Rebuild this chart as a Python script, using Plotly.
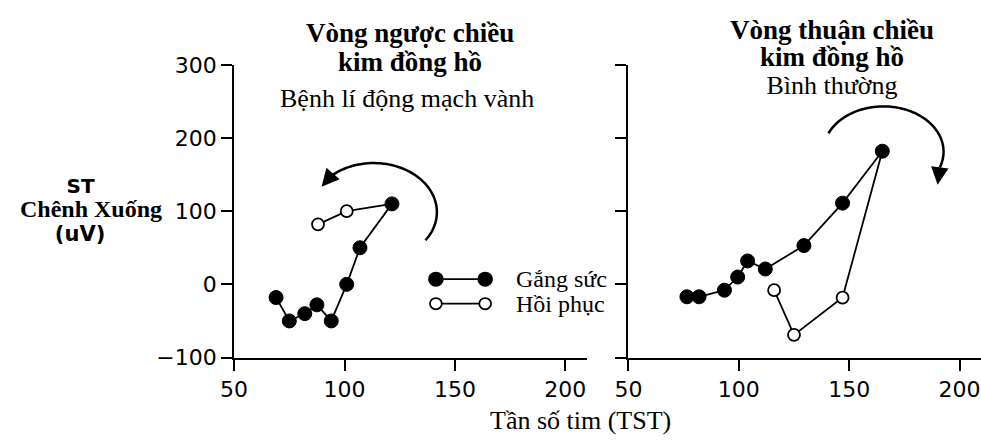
import numpy as np
import plotly.graph_objects as go

# ---------------- data ----------------
left_ex_hr = [69, 75, 82, 87.5, 94, 101, 107, 121.5]
left_ex_st = [-18, -50, -40, -28, -50, 0, 50, 110]
left_rec_hr = [101, 88]
left_rec_st = [100, 82]

right_ex_hr = [76.5, 82, 93.5, 99.5, 104, 112, 129.5, 147, 165]
right_ex_st = [-17, -17, -8, 10, 32, 21, 53, 111, 182]
right_rec_hr = [147, 125, 116]
right_rec_st = [-18, -69, -8]

x_ticks = [50, 100, 150, 200]
y_ticks = [-100, 0, 100, 200, 300]

W, H = 981, 447
SERIF = "Liberation Serif, Times New Roman, serif"
SANS = "DejaVu Sans, Arial, sans-serif"


def px(x):
    return x / W


def py(y):
    return 1 - y / H


fig = go.Figure()

line_style = dict(color="black", width=1.8)
filled = dict(color="black", size=14, line=dict(color="black", width=1))
hollow = dict(color="white", size=12, line=dict(color="black", width=1.8))

panels = [
    ("x", "y", left_ex_hr, left_ex_st, left_rec_hr, left_rec_st),
    ("x2", "y2", right_ex_hr, right_ex_st, right_rec_hr, right_rec_st),
]
for xa, ya, ehr, est, rhr, rst in panels:
    fig.add_trace(go.Scatter(x=[ehr[-1]] + rhr, y=[est[-1]] + rst, mode="lines",
                             line=line_style, xaxis=xa, yaxis=ya, showlegend=False,
                             hoverinfo="skip"))
    fig.add_trace(go.Scatter(x=rhr, y=rst, mode="markers", marker=hollow,
                             xaxis=xa, yaxis=ya, showlegend=False))
    fig.add_trace(go.Scatter(x=ehr, y=est, mode="lines+markers", line=line_style,
                             marker=filled, xaxis=xa, yaxis=ya, showlegend=False))

axis_common = dict(showline=True, linecolor="black", linewidth=2, ticks="outside",
                   ticklen=11, tickwidth=2, tickcolor="black", showgrid=False,
                   zeroline=False, tickfont=dict(family=SANS, size=22, color="black"))

xr = [50, 209.7]
yr = [-100, 300]
ydom = [py(366), py(56)]
fig.update_layout(
    width=W, height=H, margin=dict(l=0, r=0, t=0, b=0),
    paper_bgcolor="white", plot_bgcolor="white", showlegend=False,
    xaxis=dict(domain=[px(223.3), px(581)], range=xr, tickvals=x_ticks,
               anchor="y", **axis_common),
    yaxis=dict(domain=ydom, range=yr, tickvals=y_ticks, anchor="x", **axis_common),
    xaxis2=dict(domain=[px(623.3), 1.0], range=xr, tickvals=x_ticks,
                anchor="y2", **axis_common),
    yaxis2=dict(domain=ydom, range=yr, tickvals=y_ticks, anchor="x2",
                showticklabels=False,
                **{k: v for k, v in axis_common.items() if k != "tickfont"}),
)


def text(s, x, y, size, family=SERIF, xanchor="center"):
    fig.add_annotation(text=s, x=px(x), y=py(y),
                       xref="paper", yref="paper", showarrow=False,
                       xanchor=xanchor, yanchor="middle", align="center",
                       font=dict(family=family, size=size, color="black"))


def span(s, size, family=SERIF, bold=False):
    inner = f"<b>{s}</b>" if bold else s
    return f'<span style="font-size:{size}px;font-family:{family}">{inner}</span>'


# titles (one text block each)
text(span("Vòng ngược chiều", 27, bold=True) + "<br>" +
     span("kim đồng hồ", 27, bold=True), 402, 38, 22)
text("Bệnh lí động mạch vành", 399, 92, 26)
text(span("Vòng thuận chiều", 27, bold=True) + "<br>" +
     span("kim đồng hồ", 27, bold=True) + "<br>" +
     span("Bình thường", 26), 830, 48, 21)

# y label
text(span("ST&nbsp;&nbsp;&nbsp;", 20, SANS, True) + "<br>" +
     span("Chênh Xuống", 24, SERIF, True) + "<br>" +
     span("(uV)&nbsp;&nbsp;&nbsp;", 21, SANS, True), 78, 210, 18.5)

# x title
text("Tần số tim (TST)", 575, 433, 26)

# legend (drawn manually: marker—line—marker)
text("Gắng sức", 507, 283, 24, xanchor="left")
text("Hồi phục", 507, 309, 24, xanchor="left")
for yy, fillc in [(283, "black"), (309, "white")]:
    fig.add_shape(type="line", xref="paper", yref="paper", x0=px(428), x1=px(478),
                  y0=py(yy), y1=py(yy), line=dict(color="black", width=1.8))
    for xx in (428, 478):
        r = 7 if fillc == "black" else 6
        fig.add_shape(type="circle", xref="paper", yref="paper",
                      x0=px(xx - r), x1=px(xx + r), y0=py(yy + r), y1=py(yy - r),
                      fillcolor=fillc, line=dict(color="black", width=1.8))


def arc(cx, cy, rx, ry, a0, a1, n=60):
    t = np.radians(np.linspace(a0, a1, n))
    xs = cx + rx * np.cos(t)
    ys = cy - ry * np.sin(t)
    d = "M " + " L ".join(f"{px(a):.5f},{py(b):.5f}" for a, b in zip(xs, ys))
    fig.add_shape(type="path", path=d, xref="paper", yref="paper",
                  line=dict(color="black", width=2.5))
    return xs[-1], ys[-1]


def head(tail, tip):
    fig.add_annotation(x=px(tip[0]), y=py(tip[1]), xref="paper", yref="paper",
                       ax=tail[0] - tip[0], ay=tail[1] - tip[1], axref="pixel",
                       ayref="pixel", text="", showarrow=True, arrowhead=2,
                       arrowsize=1.4, arrowwidth=2.5, arrowcolor="black", standoff=0)


e = arc(365, 212, 64, 52, -35, 132)
head(e, (312, 185))
e = arc(882, 148, 61, 48, 156, -20)
head(e, (937, 183))

fig.write_html("out.html")
